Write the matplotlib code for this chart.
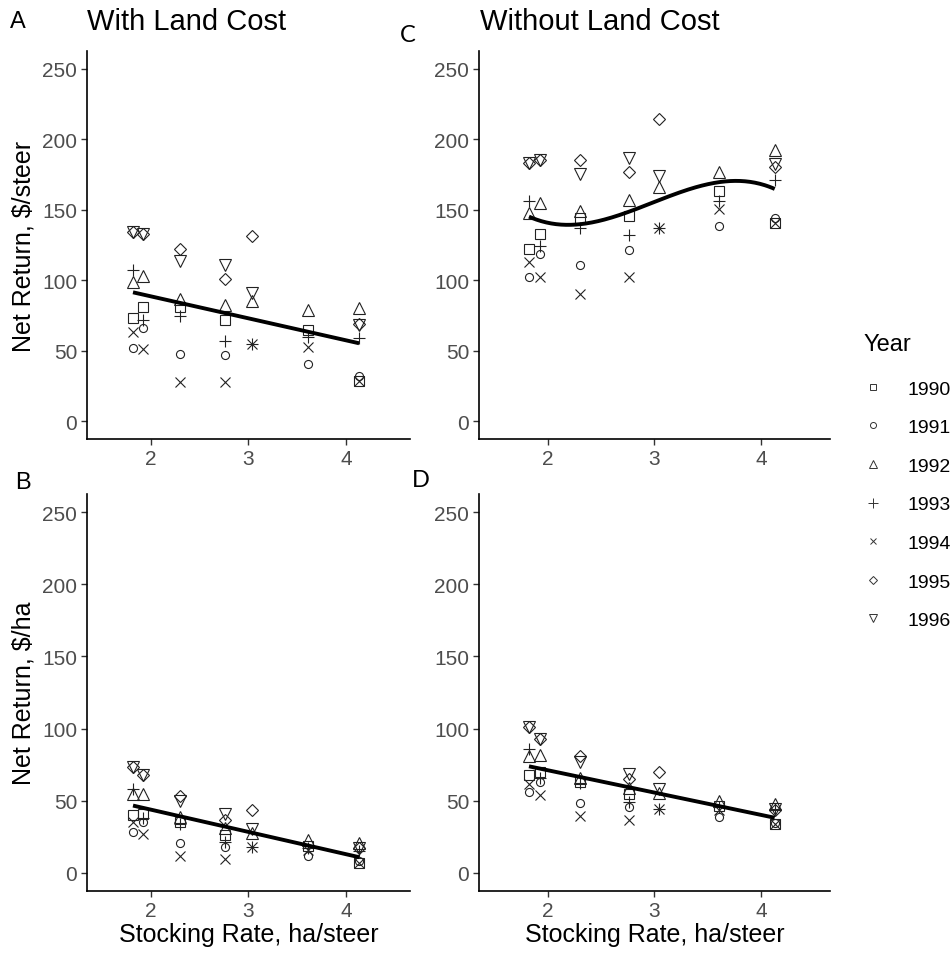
import numpy as np
import matplotlib
matplotlib.use('Agg')
import matplotlib.pyplot as plt
from matplotlib.lines import Line2D

plt.rcParams['font.family'] = ['Liberation Sans', 'DejaVu Sans']

nan = np.nan
# stocking rate, ha/steer
stocking_rate = [1.82, 1.92, 2.30, 2.76, 3.04, 3.61, 4.13]
years = ['1990', '1991', '1992', '1993', '1994', '1995', '1996']

# net return with land cost, $/steer (rows = years)
steer_with = [
    [73, 81, 81, 71.6, nan, 64.7, 28.5],
    [52, 66, 48, 47, nan, 41, 32],
    [99, 103, 87, 82.5, 85, 79, 80],
    [107, 72, 75, 57, 54.5, 60, 59],
    [63, 51, 28, 28, 54.5, 53, 28.5],
    [134, 133, 122.5, 101, 131.5, nan, 69],
    [134, 133, 114, 111, 91, nan, 68],
]
# net return without land cost, $/steer
steer_without = [
    [122, 133, 144, 145.7, nan, 163, 140.5],
    [102, 118.5, 110.7, 121.6, nan, 138.6, 143.8],
    [147.6, 155, 149, 157, 166, 176.5, 192],
    [156, 124, 137, 132, 137, 156, 171],
    [113, 102.6, 90, 102, 137, 150.5, 140.5],
    [183, 185, 185, 176.5, 214, nan, 180.5],
    [183, 185, 175, 186.5, 173.7, nan, 182.5],
]
# net return with land cost, $/ha
ha_with = [
    [40, 41, 35.5, 26, nan, 19, 7],
    [28.6, 35, 21, 18, nan, 12, 8],
    [54.7, 54.7, 38.5, 31, 28, 22.5, 20.5],
    [58, 38, 34, 21.5, 18, 17.5, 15.5],
    [35, 27, 12, 10, 18, 16, 7],
    [73.5, 68, 53.5, 37, 43.5, nan, 17],
    [73.5, 68, 50, 40.5, 30.5, nan, 17],
]
# net return without land cost, $/ha
ha_without = [
    [67.8, 69.6, 62.7, 54.7, nan, 46.6, 34],
    [55.8, 62.7, 48.4, 45.4, nan, 38.5, 34.8],
    [81, 82, 66, 59, 55.4, 50, 47.7],
    [85.8, 66, 62, 49, 44, 45.4, 44],
    [61.6, 54, 39.7, 37, 44, 43.8, 34],
    [100.8, 92.7, 81, 65, 70, nan, 43.8],
    [100.8, 92.7, 76.6, 68.5, 58, nan, 44.2],
]

markers = ['s', 'o', '^', '+', 'x', 'D', 'v']
msizes = {'s': 6.6, 'o': 5.8, '^': 8.6, '+': 9.2, 'x': 6.6, 'D': 6.0, 'v': 8.6}
mcol = '#222222'

W, H = 952, 954
fig = plt.figure(figsize=(W / 100, H / 100), dpi=100)


def rect(l, t, r, b):
    return [l / W, 1 - b / H, (r - l) / W, (b - t) / H]


def year_fit(data, deg):
    # polynomial in stocking rate with a separate intercept for each year
    x = np.array(stocking_rate)
    rows, yv = [], []
    for i, vals in enumerate(data):
        for xi, yi in zip(x, vals):
            if np.isnan(yi):
                continue
            d = np.zeros(len(data))
            d[i] = 1
            rows.append(np.concatenate([d, [(xi - 3) ** k for k in range(1, deg + 1)]]))
            yv.append(yi)
    beta = np.linalg.lstsq(np.array(rows), np.array(yv), rcond=None)[0]
    xs = np.linspace(x.min(), x.max(), 200)
    ys = beta[:len(data)].mean() + sum(beta[len(data) + k - 1] * (xs - 3) ** k
                                       for k in range(1, deg + 1))
    return xs, ys


def panel(pos, data, deg, ylabel=None, xlabel=None):
    ax = fig.add_axes(rect(*pos))
    x = np.array(stocking_rate)
    for vals, m in zip(data, markers):
        y = np.array(vals, dtype=float)
        ok = ~np.isnan(y)
        ax.plot(x[ok], y[ok], linestyle='none', marker=m, ms=msizes[m],
                mfc='none', mec=mcol, mew=0.8)
    xs, ys = year_fit(data, deg)
    ax.plot(xs, ys, color='black', lw=2.8, solid_capstyle='butt', zorder=5)
    ax.set_xlim(1.35, 4.65)
    ax.set_ylim(-12.5, 262.5)
    ax.set_xticks([2, 3, 4])
    ax.set_yticks([0, 50, 100, 150, 200, 250])
    for s in ['top', 'right']:
        ax.spines[s].set_visible(False)
    for s in ['left', 'bottom']:
        ax.spines[s].set_linewidth(1.2)
    ax.tick_params(length=4, width=1, color='#333333', labelcolor='#4D4D4D',
                   labelsize=15, pad=3)
    if ylabel:
        ax.set_ylabel(ylabel, fontsize=18, labelpad=5)
    if xlabel:
        ax.set_xlabel(xlabel, fontsize=18, labelpad=2)
    return ax


panel((87, 52, 410, 440), steer_with, 1, ylabel='Net Return, $/steer')
panel((479, 52, 830, 440), steer_without, 3)
panel((87, 495, 410, 892), ha_with, 1, ylabel='Net Return, $/ha',
      xlabel='Stocking Rate, ha/steer')
panel((479, 495, 830, 892), ha_without, 1, xlabel='Stocking Rate, ha/steer')

# titles and panel letters
fig.text(10 / W, 1 - 22 / H, 'A', fontsize=17, va='center', ha='left')
fig.text(87 / W, 1 - 22 / H, 'With Land Cost', fontsize=21, va='center', ha='left')
fig.text(400 / W, 1 - 35 / H, 'C', fontsize=17, va='center', ha='left',
         family=['Lato', 'DejaVu Sans'])
fig.text(480 / W, 1 - 22 / H, 'Without Land Cost', fontsize=21, va='center', ha='left')
fig.text(15 / W, 1 - 483 / H, 'B', fontsize=17, va='center', ha='left')
fig.text(412 / W, 1 - 481 / H, 'D', fontsize=17, va='center', ha='left',
         family=['Lato', 'DejaVu Sans'])

# legend
handles = [Line2D([], [], linestyle='none', marker=m, ms=msizes[m] * 0.75,
                  mfc='none', mec='#333333', mew=0.7) for m in markers]
fig.legend(handles, years, loc='upper left',
           bbox_to_anchor=(863 / W, 1 - 334 / H), frameon=False,
           title='Year', title_fontsize=17, fontsize=14, labelspacing=1.08,
           handlelength=1.0, handletextpad=1.3, alignment='left',
           borderpad=0, borderaxespad=0)
fig.legends[0]._legend_box.sep = 18

fig.savefig('out.png', dpi=100)
